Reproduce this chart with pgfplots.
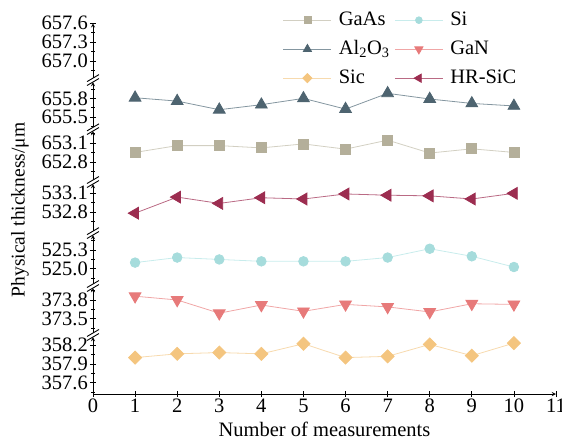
\documentclass[border=0pt]{standalone}
\usepackage{fontspec}
\setmainfont{Liberation Serif}
\usepackage{pgfplots}
\pgfplotsset{compat=1.18}
\definecolor{gaasM}{HTML}{B4AF9A}\definecolor{gaasL}{HTML}{D2CFC2}
\definecolor{alM}{HTML}{4E6470}\definecolor{alL}{HTML}{8496A0}
\definecolor{sicM}{HTML}{F4C57F}\definecolor{sicL}{HTML}{F7DAAE}
\definecolor{siM}{HTML}{A6DCDC}\definecolor{siL}{HTML}{C8ECEC}
\definecolor{ganM}{HTML}{E77A7A}\definecolor{ganL}{HTML}{F0A6A6}
\definecolor{hrM}{HTML}{9C2D50}\definecolor{hrL}{HTML}{BA6A84}
\pgfplotsset{
  /pgf/number format/assume math mode=true,
  segbase/.style={
    x=42.09pt, y=63pt, xmin=0, xmax=11, enlargelimits=false, clip=false,
    anchor=north west,
    axis line style={-, line width=0.9pt, black},
    tick align=inside,
    major tick length=6pt, minor tick length=3.5pt,
    every tick/.style={black, line width=0.8pt},
    yticklabel={\pgfmathprintnumber[fixed,fixed zerofill,precision=1]{\tick}},
    yticklabel style={inner sep=2pt},
  },
  seg/.style={segbase, axis y line=left, hide x axis},
  pGaAs/.style={draw=gaasL, line width=0.8pt, mark=square*, mark size=5pt, mark options={draw=gaasM, fill=gaasM}},
  pAl/.style={draw=alL, line width=0.8pt, mark=triangle*, mark size=6.8pt, mark options={draw=alM, fill=alM}},
  pSi/.style={draw=siL, line width=0.8pt, mark=*, mark size=4.8pt, mark options={draw=siM, fill=siM}},
  pGaN/.style={draw=ganL, line width=0.8pt, mark=triangle*, mark size=6.8pt, mark options={rotate=180, draw=ganM, fill=ganM}},
  pSic/.style={draw=sicL, line width=0.8pt, mark=square*, mark size=4.6pt, mark options={rotate=45, draw=sicM, fill=sicM}},
  pHR/.style={draw=hrL, line width=0.8pt, mark=triangle*, mark size=6.8pt, mark options={rotate=90, draw=hrM, fill=hrM}},
}
\tikzset{brk/.style={line width=0.9pt, black}}
\begin{document}
\fontsize{20.5}{24}\selectfont
\begin{tikzpicture}
\useasboundingbox (-93pt,0pt) rectangle (469pt,-439pt);
% segment 1 (top, legend)
\begin{axis}[seg, at={(0pt,-23.3pt)}, ymin=656.73, ymax=657.6,
  ytick={657.0,657.3,657.6}, minor ytick={656.85,657.15,657.45},
  legend columns=2, legend cell align=left,
  legend style={at={(0.41,1.243)}, anchor=north west, draw=none, fill=none, inner sep=0pt, row sep=9pt,
    nodes={inner sep=0pt, text height=15pt, text depth=5pt},
    /tikz/every odd column/.append style={column sep=7pt},
    /tikz/every even column/.append style={column sep=5pt}},
  legend image code/.code={\draw[every mark/.append style={scale=0.7}, mark repeat=2, mark phase=2] plot coordinates {(0pt,0pt)(24pt,0pt)(48pt,0pt)};}]
\addlegendimage{pGaAs}\addlegendentry{GaAs}
\addlegendimage{pSi}\addlegendentry{Si}
\addlegendimage{pAl}\addlegendentry{Al\textsubscript{2}O\textsubscript{3}}
\addlegendimage{pGaN}\addlegendentry{GaN}
\addlegendimage{pSic}\addlegendentry{Sic}
\addlegendimage{pHR}\addlegendentry{HR-SiC}
\draw[brk] (rel axis cs:0,0) ++(-6pt,-3.5pt) -- ++(12pt,7pt);
\end{axis}
% segment 2 Al2O3
\begin{axis}[seg, at={(0pt,-82pt)}, ymin=655.34, ymax=656.06,
  ytick={655.5,655.8}, minor ytick={655.35,655.65,655.95}]
\addplot[pAl] coordinates {(1,655.81)(2,655.757)(3,655.62)(4,655.70)(5,655.80)(6,655.63)(7,655.88)(8,655.79)(9,655.72)(10,655.68)};
\draw[brk] (rel axis cs:0,0) ++(-6pt,-3.5pt) -- ++(12pt,7pt);
\draw[brk] (rel axis cs:0,1) ++(-6pt,-3.5pt) -- ++(12pt,7pt);
\end{axis}
% segment 3 GaAs
\begin{axis}[seg, at={(0pt,-131pt)}, ymin=652.517, ymax=653.295,
  ytick={652.8,653.1}, minor ytick={652.65,652.95,653.25}]
\addplot[pGaAs] coordinates {(1,652.955)(2,653.063)(3,653.063)(4,653.027)(5,653.09)(6,653.007)(7,653.15)(8,652.945)(9,653.012)(10,652.955)};
\draw[brk] (rel axis cs:0,0) ++(-6pt,-3.5pt) -- ++(12pt,7pt);
\draw[brk] (rel axis cs:0,1) ++(-6pt,-3.5pt) -- ++(12pt,7pt);
\end{axis}
% segment 4 HR-SiC
\begin{axis}[seg, at={(0pt,-184pt)}, ymin=532.50, ymax=533.248,
  ytick={532.8,533.1}, minor ytick={532.65,532.95}]
\addplot[pHR] coordinates {(1,532.785)(2,533.04)(3,532.94)(4,533.03)(5,533.01)(6,533.09)(7,533.07)(8,533.06)(9,533.01)(10,533.10)};
\draw[brk] (rel axis cs:0,0) ++(-6pt,-3.5pt) -- ++(12pt,7pt);
\draw[brk] (rel axis cs:0,1) ++(-6pt,-3.5pt) -- ++(12pt,7pt);
\end{axis}
% segment 5 Si
\begin{axis}[seg, at={(0pt,-235pt)}, ymin=524.76, ymax=525.538,
  ytick={525.0,525.3}, minor ytick={524.85,525.15,525.45}]
\addplot[pSi] coordinates {(1,525.10)(2,525.18)(3,525.15)(4,525.12)(5,525.12)(6,525.12)(7,525.18)(8,525.32)(9,525.20)(10,525.03)};
\draw[brk] (rel axis cs:0,0) ++(-6pt,-3.5pt) -- ++(12pt,7pt);
\draw[brk] (rel axis cs:0,1) ++(-6pt,-3.5pt) -- ++(12pt,7pt);
\end{axis}
% segment 6 GaN
\begin{axis}[seg, at={(0pt,-288pt)}, ymin=373.276, ymax=373.99,
  ytick={373.5,373.8}, minor ytick={373.35,373.65,373.95}]
\addplot[pGaN] coordinates {(1,373.86)(2,373.80)(3,373.59)(4,373.72)(5,373.62)(6,373.73)(7,373.69)(8,373.61)(9,373.74)(10,373.73)};
\draw[brk] (rel axis cs:0,0) ++(-6pt,-3.5pt) -- ++(12pt,7pt);
\draw[brk] (rel axis cs:0,1) ++(-6pt,-3.5pt) -- ++(12pt,7pt);
\end{axis}
% segment 7 Sic + x axis
\begin{axis}[segbase, axis lines=left, at={(0pt,-337pt)}, ymin=357.422, ymax=358.327,
  xtick={0,1,...,11},
  ytick={357.6,357.9,358.2}, minor ytick={357.45,357.75,358.05},
  xticklabel={\pgfmathprintnumber{\tick}},
  xticklabel style={yshift=5pt},
  xlabel={Number of measurements},
  xlabel style={at={(axis description cs:0.5,0)}, anchor=north, inner sep=0pt, yshift=-28pt}]
\addplot[pSic] coordinates {(1,358.00)(2,358.06)(3,358.08)(4,358.06)(5,358.22)(6,358.00)(7,358.02)(8,358.21)(9,358.03)(10,358.23)};
\draw[brk] (rel axis cs:0,1) ++(-6pt,-3.5pt) -- ++(12pt,7pt);
\end{axis}
\node[rotate=90, font=\fontsize{19.5}{23}\selectfont] at (-73pt,-210pt) {Physical thickness/μm};
\end{tikzpicture}
\end{document}
